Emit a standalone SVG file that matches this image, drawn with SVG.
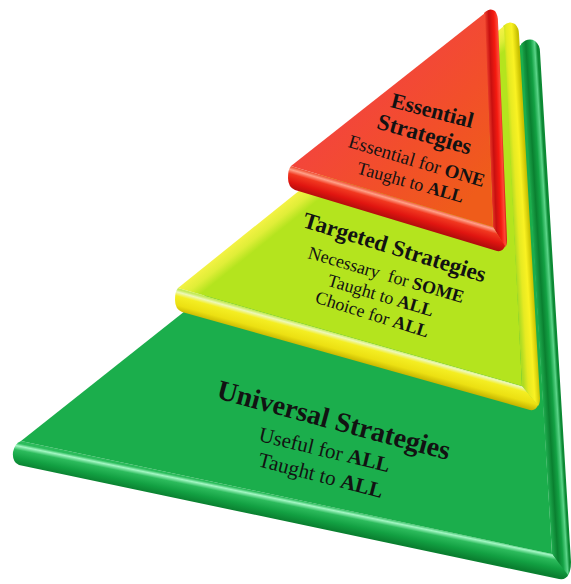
<svg xmlns="http://www.w3.org/2000/svg" width="571" height="584" viewBox="0 0 571 584">
<defs>
<style>
text{font-family:"Liberation Serif","Times New Roman",serif;fill:#121212;text-anchor:middle}
.b{font-weight:bold}
</style>
<linearGradient id="gBot" gradientUnits="userSpaceOnUse" x1="286" y1="498" x2="281.5" y2="520">
<stop offset="0" stop-color="#2cbc5c"/><stop offset="0.12" stop-color="#a4f7c4"/><stop offset="0.3" stop-color="#2cbb5c"/><stop offset="0.65" stop-color="#12a042"/><stop offset="1" stop-color="#0a8030"/>
</linearGradient>
<linearGradient id="gRight" gradientUnits="userSpaceOnUse" x1="537" y1="300" x2="553" y2="299">
<stop offset="0" stop-color="#1da84c"/><stop offset="0.3" stop-color="#0a8030"/><stop offset="0.6" stop-color="#13a244"/><stop offset="0.85" stop-color="#5ad488"/><stop offset="1" stop-color="#0c8a34"/>
</linearGradient>
<linearGradient id="yBot" gradientUnits="userSpaceOnUse" x1="350" y1="337" x2="344.2" y2="358">
<stop offset="0" stop-color="#c4ea5a"/><stop offset="0.12" stop-color="#eef8b8"/><stop offset="0.3" stop-color="#f4ee22"/><stop offset="0.7" stop-color="#ece012"/><stop offset="1" stop-color="#c6b600"/>
</linearGradient>
<linearGradient id="yRight" gradientUnits="userSpaceOnUse" x1="512" y1="200" x2="528" y2="199">
<stop offset="0" stop-color="#b0dc22"/><stop offset="0.3" stop-color="#e6ea22"/><stop offset="0.65" stop-color="#faf222"/><stop offset="1" stop-color="#c8c000"/>
</linearGradient>
<linearGradient id="yFace" gradientUnits="userSpaceOnUse" x1="240" y1="238" x2="252" y2="253">
<stop offset="0" stop-color="#f4f244"/><stop offset="0.5" stop-color="#e0ee38"/><stop offset="1" stop-color="#b4e41e"/>
</linearGradient>
<linearGradient id="rBot" gradientUnits="userSpaceOnUse" x1="392" y1="196.5" x2="385.7" y2="218">
<stop offset="0" stop-color="#f05a3c"/><stop offset="0.12" stop-color="#ffa088"/><stop offset="0.3" stop-color="#f23820"/><stop offset="0.65" stop-color="#e01510"/><stop offset="1" stop-color="#b00c0c"/>
</linearGradient>
<linearGradient id="rRight" gradientUnits="userSpaceOnUse" x1="489" y1="120" x2="503" y2="119.5">
<stop offset="0" stop-color="#e83a28"/><stop offset="0.25" stop-color="#c81010"/><stop offset="0.6" stop-color="#f41a10"/><stop offset="0.85" stop-color="#ff4a36"/><stop offset="1" stop-color="#cc1010"/>
</linearGradient>
<linearGradient id="rFace" gradientUnits="userSpaceOnUse" x1="360" y1="90" x2="470" y2="200">
<stop offset="0" stop-color="#f3453c"/><stop offset="0.5" stop-color="#f24f2a"/><stop offset="1" stop-color="#ef5c1a"/>
</linearGradient>
</defs>
<rect width="571" height="584" fill="#ffffff"/>

<g id="universal">
<path d="M521,44 Q528,37 535,41 Q540,45 540,52 L571,562 Q571,572 567,577 L552,554 Z" fill="url(#gRight)"/>
<path d="M21,441 L552,554 L568,575 Q566,580 559,579 L19,465 Q12,462 13,452 Q15,443 21,441 Z" fill="url(#gBot)"/>
<path d="M522,44 L552,554 L21,441 Z" fill="#1bae4c"/>
<text class="b" font-size="28" transform="translate(331.5,429) rotate(15)">Universal Strategies</text>
<text font-size="21" transform="translate(323,456.5) rotate(13.5)">Useful for <tspan class="b">ALL</tspan></text>
<text font-size="21" transform="translate(319,482) rotate(14.5)">Taught to <tspan class="b">ALL</tspan></text>
</g>

<g id="targeted">
<path d="M503,26 Q509,20 515,24 Q519,28 519,34 L540,398 Q540,404 538,406 L522,386 Z" fill="url(#yRight)"/>
<path d="M178,288 L522,386 L538,405 Q536,411 530,410 L182,312 Q175,309 175,300 Q175,291 178,288 Z" fill="url(#yBot)"/>
<path d="M504,26 L522,386 L178,288 Z" fill="url(#yFace)"/>
<text class="b" font-size="23" transform="translate(392.5,254.5) rotate(17)">Targeted Strategies</text>
<text font-size="18" transform="translate(384.5,280.5) rotate(16.2)" xml:space="preserve">Necessary  for <tspan class="b">SOME</tspan></text>
<text font-size="18" transform="translate(379,301) rotate(16.5)">Taught to <tspan class="b">ALL</tspan></text>
<text font-size="18" transform="translate(370.5,320) rotate(17.4)">Choice for <tspan class="b">ALL</tspan></text>
</g>

<g id="essential">
<path d="M484,13 Q490,7 495,11 Q498,15 498,22 L507,240 Q507,246 505,247 L493,227 Z" fill="url(#rRight)"/>
<path d="M291,166 L493,227 L505,246 Q503,252 497,251 L295,190 Q288,187 288,178 Q288,169 291,166 Z" fill="url(#rBot)"/>
<path d="M485,13 L493,227 L291,166 Z" fill="url(#rFace)"/>
<text class="b" font-size="22" transform="translate(430.5,117.5) rotate(14.5)">Essential</text>
<text class="b" font-size="23" transform="translate(422.5,141.5) rotate(15.9)">Strategies</text>
<text font-size="19" transform="translate(415,167) rotate(16.6)">Essential for <tspan class="b">ONE</tspan></text>
<text font-size="18" transform="translate(409,188) rotate(15.5)">Taught to <tspan class="b">ALL</tspan></text>
</g>
</svg>
